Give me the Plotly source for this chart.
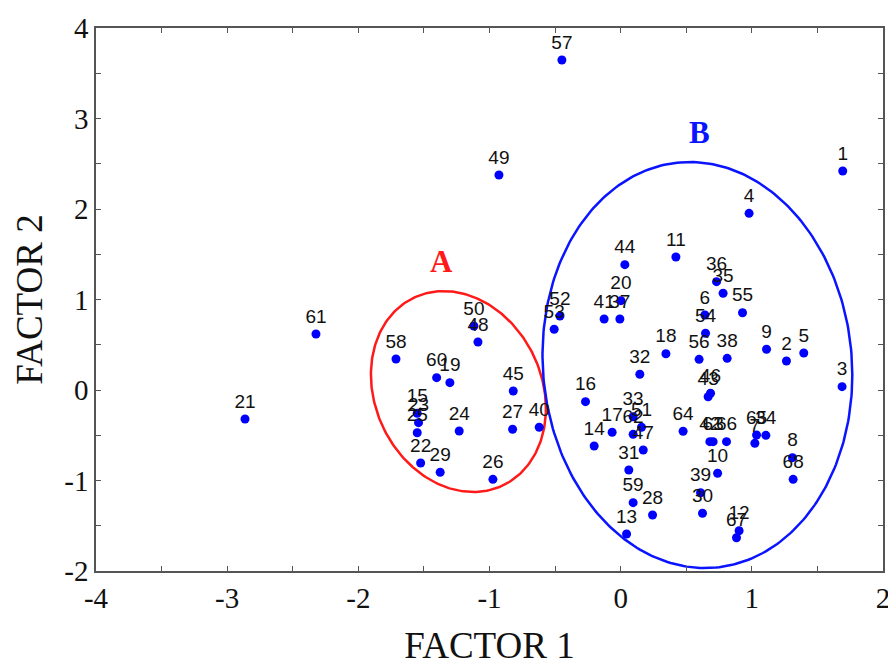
import numpy as np
import plotly.graph_objects as go

# ---- data ----
labels = [str(i) for i in range(1, 69)]
factor1 = [1.693, 1.264, 1.688, 0.979, 1.396, 0.642, 1.023, 1.310, 1.112, 0.739,
           0.421, 0.903, 0.045, -0.202, -1.551, -0.268, -0.065, 0.345, -1.302, 0.002,
           -2.864, -1.525, -1.541, -1.231, -1.551, -0.974, -0.824, 0.243, -1.376, 0.624,
           0.062, 0.146, 0.095, 1.107, 0.781, 0.731, -0.006, 0.812, 0.609, -0.621,
           -0.126, 0.680, 0.667, 0.032, -0.819, 0.685, 0.172, -1.088, -0.928, -1.119,
           0.159, -0.463, -0.507, 0.647, 0.929, 0.598, -0.448, -1.713, 0.095, -1.403,
           -2.323, 0.095, 0.705, 0.476, 1.036, 0.807, 0.883, 1.315]
factor2 = [2.420, 0.320, 0.037, 1.952, 0.409, 0.829, -0.589, -0.748, 0.450, -0.920,
           1.470, -1.555, -1.591, -0.619, -0.257, -0.129, -0.467, 0.401, 0.081, 0.987,
           -0.320, -0.807, -0.361, -0.453, -0.472, -0.987, -0.434, -1.381, -0.909, -1.362,
           -0.884, 0.174, -0.295, -0.501, 1.069, 1.197, 0.785, 0.350, -1.135, -0.412,
           0.785, -0.571, -0.074, 1.385, -0.011, -0.036, -0.663, 0.530, 2.376, 0.707,
           -0.412, 0.818, 0.671, 0.627, 0.854, 0.339, 3.646, 0.343, -1.245, 0.136,
           0.619, -0.490, -0.571, -0.456, -0.497, -0.571, -1.632, -0.987]

x_ticks = [-4, -3, -2, -1, 0, 1, 2]
y_ticks = [-2, -1, 0, 1, 2, 3, 4]

# group ellipses: centre, spread (sx, sy) and covariance term
group_names = ["A", "B"]
group_colors = ["#ff1a1a", "#0a14ff"]
group_centre_x = [-1.237, 0.585]
group_centre_y = [-0.017, 0.276]
group_sx = [0.667, 1.181]
group_sy = [1.110, 2.243]
group_cov = [-0.125, -0.130]
group_label_x = [-1.365, 0.604]
group_label_y = [1.418, 2.84]

fig = go.Figure()

t = np.linspace(0, 2 * np.pi, 300)
for i in range(2):
    sx, sy, c = group_sx[i], group_sy[i], group_cov[i]
    ex = group_centre_x[i] + sx * np.cos(t)
    ey = group_centre_y[i] + (c / sx) * np.cos(t) + np.sqrt(sy ** 2 - (c / sx) ** 2) * np.sin(t)
    fig.add_trace(go.Scatter(x=ex, y=ey, mode="lines",
                             line=dict(color=group_colors[i], width=2.5),
                             hoverinfo="skip", showlegend=False))
    fig.add_annotation(x=group_label_x[i], y=group_label_y[i], text="<b>%s</b>" % group_names[i],
                       showarrow=False,
                       font=dict(family="Times New Roman, Liberation Serif, serif",
                                 size=31, color=group_colors[i]))

fig.add_trace(go.Scatter(
    x=factor1, y=factor2, mode="markers+text", text=labels,
    textposition="top center",
    textfont=dict(family="Arial, Liberation Sans, sans-serif", size=19, color="#111111"),
    marker=dict(color="#0000ff", size=9, line=dict(width=0)),
    showlegend=False))

axis_font = dict(family="Times New Roman, Liberation Serif, serif", size=29, color="#111111")
title_font = dict(family="Times New Roman, Liberation Serif, serif", size=37, color="#111111")

common = dict(showgrid=False, zeroline=False, showline=True, linecolor="#555555",
              linewidth=1.5, mirror="allticks", ticks="inside", ticklen=5,
              tickcolor="#555555", automargin=False, tickfont=axis_font,
              minor=dict(dtick=0.5, ticks="inside", ticklen=5, tickcolor="#555555", showgrid=False))

fig.update_xaxes(range=[-4, 2], tickvals=x_ticks, ticktext=[str(v) for v in x_ticks],
                 title=dict(text="FACTOR 1", font=title_font, standoff=22), **common)
fig.update_yaxes(range=[-2, 4], tickvals=y_ticks, ticktext=[str(v) for v in y_ticks],
                 title=dict(text="FACTOR 2", font=title_font, standoff=10), **common)

# page body adds an 8px offset, so the figure is sized to fit the 896x666 window
fig.update_layout(width=888, height=658,
                  margin=dict(l=88, r=13, t=20, b=95),
                  plot_bgcolor="white", paper_bgcolor="white")

fig.write_html("out.html")
